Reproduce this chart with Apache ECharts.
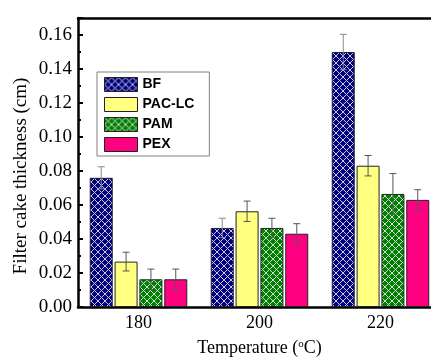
<!DOCTYPE html>
<html>
<head>
<meta charset="utf-8">
<script src="https://cdn.jsdelivr.net/npm/echarts@6/dist/echarts.min.js"></script>
<style>html,body{margin:0;padding:0;background:#fff}#c{width:431px;height:357px}</style>
</head>
<body>
<div id="c"></div>
<script>
const categories = ['180', '200', '220'];
const seriesNames = ['BF', 'PAC-LC', 'PAM', 'PEX'];
const bfValues = [0.076, 0.0465, 0.150];
const bfErrors = [0.0065, 0.0057, 0.0104];
const paclcValues = [0.0267, 0.0563, 0.0831];
const paclcErrors = [0.0055, 0.006, 0.006];
const pamValues = [0.0163, 0.0465, 0.0665];
const pamErrors = [0.006, 0.0057, 0.012];
const pexValues = [0.0163, 0.0431, 0.063];
const pexErrors = [0.006, 0.0059, 0.006];
const yTickStep = 0.02;

function hatch(bg, line) {
  const N = 7;
  const cv = document.createElement('canvas');
  cv.width = N; cv.height = N;
  const ctx = cv.getContext('2d');
  ctx.fillStyle = bg; ctx.fillRect(0, 0, N, N);
  ctx.fillStyle = line;
  for (let x = 0; x < N; x++) {
    for (let y = 0; y < N; y++) {
      if (x === y || x + y === N - 1) ctx.fillRect(x, y, 1, 1);
    }
  }
  return { image: cv, repeat: 'repeat' };
}

const fills = [hatch('#000080', '#c8c8dc'), '#ffff80', hatch('#008000', '#d0dcd0'), '#ff0080'];
const valuesAll = [bfValues, paclcValues, pamValues, pexValues];
const errorsAll = [bfErrors, paclcErrors, pamErrors, pexErrors];

const BW = 23, GAP = 0.08;
const groupW = 4 * BW + 3 * BW * GAP;

const series = [];
seriesNames.forEach((n, i) => {
  series.push({
    name: n, type: 'bar', data: valuesAll[i], barWidth: BW, barGap: (GAP * 100) + '%',
    itemStyle: { color: fills[i], borderColor: '#222', borderWidth: 1 },
    xAxisIndex: 0, yAxisIndex: 0
  });
});
seriesNames.forEach((n, i) => {
  series.push({
    type: 'custom', xAxisIndex: 0, yAxisIndex: 0, silent: true, z: 5,
    data: valuesAll[i].map((v, k) => [k, v, errorsAll[i][k]]),
    renderItem: function (params, api) {
      const k = api.value(0), v = api.value(1), e = api.value(2);
      const off = -groupW / 2 + BW / 2 + i * BW * (1 + GAP);
      const top = api.coord([k, v + e]);
      const bot = api.coord([k, v - e]);
      const x = top[0] + off;
      const cap = 3.5;
      const st = { stroke: i === 0 ? '#8a8a8a' : '#555', lineWidth: 1, fill: null };
      return {
        type: 'group', children: [
          { type: 'line', shape: { x1: x, y1: top[1], x2: x, y2: bot[1] }, style: st },
          { type: 'line', shape: { x1: x - cap, y1: top[1], x2: x + cap, y2: top[1] }, style: st },
          { type: 'line', shape: { x1: x - cap, y1: bot[1], x2: x + cap, y2: bot[1] }, style: st }
        ]
      };
    }
  });
});

const serif = '"Liberation Serif", "Times New Roman", serif';
const chart = echarts.init(document.getElementById('c'), null, { renderer: 'canvas' });
chart.setOption({
  animation: false,
  backgroundColor: '#fff',
  grid: { left: 78, top: 18, width: 363, height: 289, outerBoundsMode: 'none', containLabel: false },
  legend: {
    data: seriesNames, orient: 'vertical', left: 97, top: 72,
    itemWidth: 33, itemHeight: 14, itemGap: 5, icon: 'rect',
    padding: [5, 15, 4, 7], borderColor: '#808080', borderWidth: 1, backgroundColor: '#fff',
    textStyle: { fontFamily: '"Liberation Sans", Arial, sans-serif', fontWeight: 'bold', fontSize: 14, color: '#000' },
    itemStyle: { borderColor: '#222', borderWidth: 1 }
  },
  xAxis: [
    {
      type: 'category', data: categories, position: 'bottom',
      axisLine: { lineStyle: { color: '#000', width: 2.5 } },
      axisTick: { alignWithLabel: true, inside: true, length: 5, lineStyle: { color: '#000', width: 2 } },
      axisLabel: { fontFamily: serif, fontSize: 18, color: '#000', margin: 7 },
      name: '{a|Temperature (}{s|o}{a|C)}', nameLocation: 'middle', nameGap: 32,
      nameTextStyle: { rich: { a: { fontFamily: serif, fontSize: 18, color: '#000' }, s: { fontFamily: serif, fontSize: 11, color: '#000', verticalAlign: 'top', padding: [0, 0, 0, 0] } } }
    },
    {
      type: 'category', data: categories, position: 'bottom', offset: 0,
      axisLine: { show: false },
      axisTick: { inside: true, length: 3, lineStyle: { color: '#000', width: 2 } },
      axisLabel: { show: false }
    },
    {
      type: 'category', data: categories, position: 'top', offset: 0,
      axisLine: { lineStyle: { color: '#000', width: 2.5 } },
      axisTick: { alignWithLabel: true, inside: true, length: 5, lineStyle: { color: '#000', width: 2 } },
      axisLabel: { show: false }
    },
    {
      type: 'category', data: categories, position: 'top', offset: 0,
      axisLine: { show: false },
      axisTick: { inside: true, length: 3, lineStyle: { color: '#000', width: 2 } },
      axisLabel: { show: false }
    }
  ],
  yAxis: {
    type: 'value', min: 0, max: 0.17, interval: yTickStep,
    axisLine: { show: true, lineStyle: { color: '#000', width: 2.5 } },
    axisTick: { show: true, inside: true, length: 5, lineStyle: { color: '#000', width: 2 } },
    minorTick: { show: true, splitNumber: 2, length: 3, lineStyle: { color: '#000', width: 2 } },
    splitLine: { show: false },
    axisLabel: { fontFamily: serif, fontSize: 19, color: '#000', margin: 6, showMaxLabel: false,
      formatter: v => v.toFixed(2) }
  },
  graphic: [{
    type: 'text', x: 21, y: 176, rotation: Math.PI / 2,
    style: { text: 'Filter cake thickness (cm)', font: '19px ' + serif, fill: '#000', align: 'center', verticalAlign: 'middle' }
  }],
  series: series
});
</script>
</body>
</html>
